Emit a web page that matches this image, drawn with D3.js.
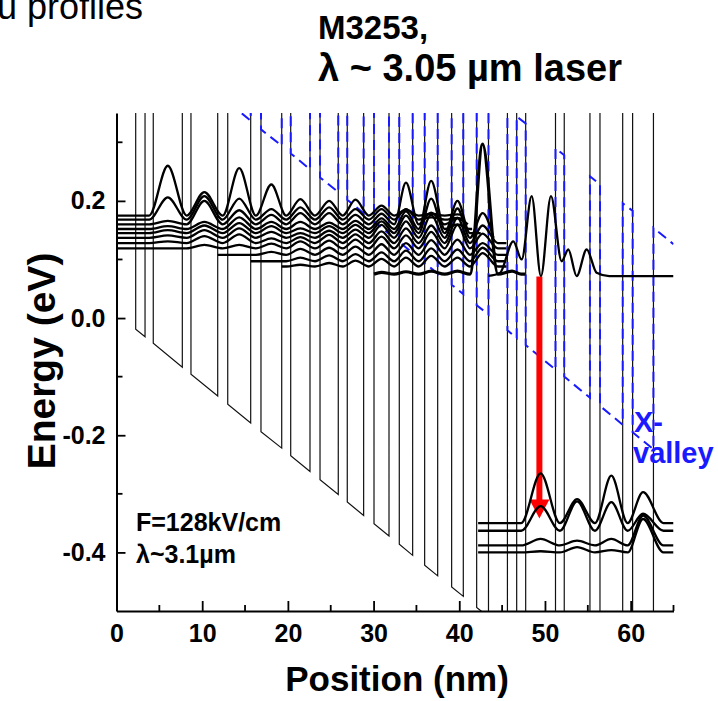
<!DOCTYPE html>
<html>
<head>
<meta charset="utf-8">
<script src="https://cdn.jsdelivr.net/npm/d3@7"></script>
<style>
  body { margin: 0; background: #fff; }
  svg { display: block; }
  text { font-family: Arial, "Liberation Sans", Helvetica, sans-serif; }
</style>
</head>
<body>
<svg id="chart" width="718" height="701"></svg>
<script>
// ---- Layer structure (nm) and band edges ----
// boundaries of the layers across the period shown
const layerEdges = [0, 2.24, 3.33, 4.29, 7.68, 8.69, 11.81, 12.98, 15.66, 16.86, 19.28,
  20.33, 22.58, 23.75, 25.88, 26.93, 28.84, 30.05, 31.80, 33.00, 34.56, 35.96, 37.48,
  39.11, 40.47, 42.03, 43.41, 45.62, 46.70, 47.75, 51.23, 52.25, 55.25, 56.42, 59.07,
  60.23, 62.66, 65];
// B = barrier, W = well, one letter per layer
const layerKind = "BWBWBWBWBWBWBWBWBWBWBWBWBWBWBWBWBWBWB";
// Gamma conduction-band bottom (eV) at each boundary under the applied field
const gammaEdge = [0.008, -0.019, -0.032, -0.043, -0.084, -0.096, -0.133, -0.147, -0.179,
  -0.194, -0.222, -0.235, -0.262, -0.276, -0.301, -0.314, -0.337, -0.351, -0.372, -0.386,
  -0.405, -0.422, -0.440, -0.459, -0.475, -0.494, -0.510, -0.537, -0.550, -0.562, -0.604,
  -0.616, -0.652, -0.666, -0.698, -0.711, -0.740, -0.768];
const barrierHeight = 1.6;        // barrier top above the well bottom (off scale)
const xValleyWell = 0.516;        // X-valley minimum above Gamma in the wells
const xValleyBarrier = 0.894;     // X-valley minimum in the barriers, same reference

// ---- Subband moduli squared: level (eV), extent (nm), peak height per well (eV) ----
const injLevels = [0.175, 0.168, 0.160, 0.152, 0.145, 0.137, 0.128, 0.119, 0.108, 0.097, 0.088, 0.075];
const injStart  = [0, 0, 0, 0, 0, 0, 0, 0, 11.81, 15.66, 19.28, 30.05];
const injEnd    = [40.5, 40.5, 41.0, 41.5, 42.5, 44.0, 45.5, 45.5, 45.5, 45.5, 45.5, 47.7];
const injPeaks = [
  [0, .085, .040, .081, .053, .028, .025, .027, .017, .010, .003, .002, 0, 0, 0, 0, 0, 0],
  [0, .038, .040, .036, .018, .021, .021, .018, .018, .018, .004, .003, 0, 0, 0, 0, 0, 0],
  [0, .006, .040, .024, .016, .019, .019, .016, .018, .071, .020, .010, 0, 0, 0, 0, 0, 0],
  [0, .005, .012, .020, .012, .012, .011, .014, .018, .030, .082, .008, 0, 0, 0, 0, 0, 0],
  [0, .005, .013, .017, .012, .008, .012, .014, .020, .030, .059, .055, .010, 0, 0, 0, 0, 0],
  [0, .004, .013, .016, .010, .008, .012, .014, .022, .028, .039, .050, .042, 0, 0, 0, 0, 0],
  [0, .003, .012, .015, .008, .010, .014, .015, .020, .025, .030, .043, .030, 0, 0, 0, 0, 0],
  [0, 0, .006, .006, .008, .012, .013, .015, .020, .022, .028, .040, .025, 0, 0, 0, 0, 0],
  [0, 0, 0, 0, .005, .010, .012, .014, .018, .020, .025, .026, .020, 0, 0, 0, 0, 0],
  [0, 0, 0, 0, 0, .006, .010, .012, .015, .018, .022, .020, .023, 0, 0, 0, 0, 0],
  [0, 0, 0, 0, 0, .003, .006, .010, .013, .015, .018, .015, .023, 0, 0, 0, 0, 0],
  [0, 0, 0, 0, 0, 0, 0, 0, .003, .004, .005, .005, .222, .005, 0, 0, 0, 0]
];
// upper laser level, traced point by point (nm, eV)
const upperLevel = [[43.4, 0.072], [44.75, 0.077], [46.3, 0.131], [47.28, 0.100], [48.45, 0.208],
  [49.53, 0.0716], [50.70, 0.208], [51.95, 0.097], [52.72, 0.117], [53.70, 0.0716],
  [54.87, 0.117], [56.03, 0.0773], [57.5, 0.0716], [65, 0.0716]];
// lower laser levels
const lowLevels = [-0.350, -0.363, -0.388, -0.400];
const lowStart = 42.2, lowEnd = 65;
const lowPeaks = [
  [0, 0, 0, 0, 0, 0, 0, 0, 0, 0, 0, 0, 0, 0, .085, .041, .081, .053],
  [0, 0, 0, 0, 0, 0, 0, 0, 0, 0, 0, 0, 0, 0, .042, .050, .049, .029],
  [0, 0, 0, 0, 0, 0, 0, 0, 0, 0, 0, 0, 0, 0, .011, .008, .011, .051],
  [0, 0, 0, 0, 0, 0, 0, 0, 0, 0, 0, 0, 0, 0, .002, .009, .004, .057]
];
// optical transition
const transition = { x: 49.35, from: 0.071, to: -0.342 };

const xTicks = [0, 10, 20, 30, 40, 50, 60];
const xMinor = [5, 15, 25, 35, 45, 55, 65];
const yTicks = [-0.4, -0.2, 0.0, 0.2];
const yMinor = [-0.3, -0.1, 0.1, 0.3];

// ---- Scales ----
const svg = d3.select("#chart");
const x = d3.scaleLinear().domain([0, 65]).range([116.5, 673.5]);
const y = d3.scaleLinear().domain([-0.5, 0.35]).range([611, 113]);

svg.append("defs").append("clipPath").attr("id", "plot")
  .append("rect").attr("x", x(0)).attr("y", y(0.35))
  .attr("width", x(65) - x(0)).attr("height", y(-0.5) - y(0.35));

const plot = svg.append("g").attr("clip-path", "url(#plot)");
const line = d3.line().x(d => x(d[0])).y(d => y(d[1]));

// band profile built layer by layer
function profile(offW, offB) {
  const pts = [];
  for (let i = 0; i < layerKind.length; i++) {
    const off = layerKind[i] === "W" ? offW : offB;
    pts.push([layerEdges[i], gammaEdge[i] + off]);
    pts.push([layerEdges[i + 1], gammaEdge[i + 1] + off]);
  }
  return pts;
}

plot.append("path").attr("d", line(profile(0, barrierHeight)))
  .attr("fill", "none").attr("stroke", "#111").attr("stroke-width", 1.2);

plot.append("path").attr("d", line(profile(xValleyWell, xValleyBarrier)))
  .attr("fill", "none").attr("stroke", "#1a1aff").attr("stroke-width", 2)
  .attr("stroke-dasharray", "10,6");

// red arrow for the laser transition
const ax = x(transition.x), ay0 = y(transition.from), ay1 = y(transition.to);
plot.append("line").attr("x1", ax).attr("x2", ax).attr("y1", ay0).attr("y2", ay1 - 18)
  .attr("stroke", "#ff0000").attr("stroke-width", 6);
plot.append("path")
  .attr("d", `M${ax - 10},${ay1 - 19}L${ax + 10},${ay1 - 19}L${ax},${ay1}Z`)
  .attr("fill", "#ff0000");

// wavefunctions: peaks at well centres, back to the level in the barriers
function wavePoints(level, x0, x1, peaks) {
  const pts = [[x0, level]];
  let w = 0;
  for (let i = 0; i < layerKind.length; i++) {
    const c = (layerEdges[i] + layerEdges[i + 1]) / 2;
    const isWell = layerKind[i] === "W";
    if (c > x0 && c < x1) pts.push([c, level + (isWell ? peaks[w] : 0)]);
    if (isWell) w++;
  }
  pts.push([x1, level]);
  return pts;
}
const wave = d3.line().x(d => x(d[0])).y(d => y(d[1])).curve(d3.curveMonotoneX);

injLevels.forEach((lv, k) => {
  plot.append("path").attr("d", wave(wavePoints(lv, injStart[k], injEnd[k], injPeaks[k])))
    .attr("fill", "none").attr("stroke", "#000")
    .attr("stroke-width", k === injLevels.length - 1 ? 3.2 : 2.3);
});
plot.append("path").attr("d", wave(upperLevel))
  .attr("fill", "none").attr("stroke", "#000").attr("stroke-width", 2.3);
lowLevels.forEach((lv, k) => {
  plot.append("path").attr("d", wave(wavePoints(lv, lowStart, lowEnd, lowPeaks[k])))
    .attr("fill", "none").attr("stroke", "#000").attr("stroke-width", 2.3);
});

// ---- Axes ----
const fmt = d => d.toFixed(1);
const gy = svg.append("g").attr("transform", `translate(${x(0)},0)`);
gy.call(d3.axisLeft(y).tickValues(yTicks).tickSize(-9).tickSizeOuter(0).tickPadding(11).tickFormat(fmt));
gy.call(g => g.selectAll(".minor").data(yMinor).join("line").attr("class", "minor")
  .attr("x1", 0).attr("x2", 6).attr("y1", d => y(d)).attr("y2", d => y(d)).attr("stroke", "#000"));
const gx = svg.append("g").attr("transform", `translate(0,${y(-0.5)})`);
gx.call(d3.axisBottom(x).tickValues(xTicks).tickSize(-10).tickSizeOuter(0).tickPadding(13));
gx.call(g => g.selectAll(".minor").data(xMinor).join("line").attr("class", "minor")
  .attr("x1", d => x(d)).attr("x2", d => x(d)).attr("y1", 0).attr("y2", -6).attr("stroke", "#000"));

svg.selectAll(".domain").attr("stroke", "#000").attr("stroke-width", 2);
svg.selectAll(".tick line, .minor").attr("stroke", "#000").attr("stroke-width", 1.8);
svg.selectAll(".tick text").attr("font-size", 25).attr("font-weight", "bold")
  .attr("fill", "#000").attr("font-family", "Arial, 'Liberation Sans', sans-serif");

// ---- Titles and annotations ----
svg.append("text").attr("x", 55).attr("y", 361).attr("transform", "rotate(-90,55,361)")
  .attr("text-anchor", "middle").attr("font-size", 39).attr("font-weight", "bold")
  .text("Energy (eV)");
svg.append("text").attr("x", 397).attr("y", 691).attr("text-anchor", "middle")
  .attr("font-size", 35).attr("font-weight", "bold").text("Position (nm)");

svg.append("text").attr("x", 318).attr("y", 39).attr("font-size", 33)
  .attr("font-weight", "bold").text("M3253,");
svg.append("text").attr("x", 318).attr("y", 81).attr("font-size", 38)
  .attr("font-weight", "bold").text("λ ~ 3.05 µm laser");
svg.append("text").attr("x", -3).attr("y", 19).attr("font-size", 36).text("u profiles");

svg.append("text").attr("x", 136).attr("y", 531).attr("font-size", 25)
  .attr("font-weight", "bold").text("F=128kV/cm");
svg.append("text").attr("x", 136).attr("y", 563).attr("font-size", 25)
  .attr("font-weight", "bold").text("λ~3.1µm");

svg.append("text").attr("x", 634).attr("y", 432).attr("font-size", 29)
  .attr("font-weight", "bold").attr("fill", "#1a1aff").text("X-");
svg.append("text").attr("x", 633).attr("y", 463).attr("font-size", 29)
  .attr("font-weight", "bold").attr("fill", "#1a1aff").text("valley");
</script>
</body>
</html>
